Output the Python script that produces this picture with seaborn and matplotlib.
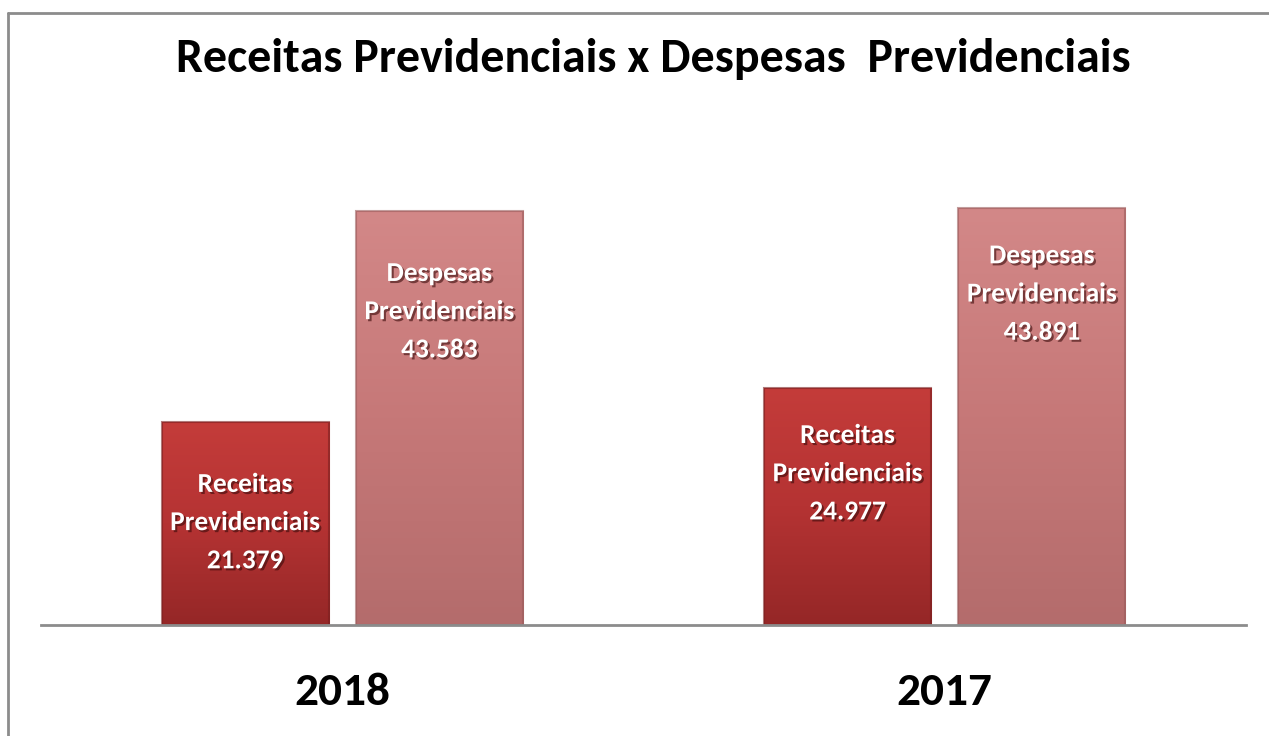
import matplotlib
matplotlib.use("Agg")
import matplotlib.pyplot as plt
import matplotlib.patheffects as pe
from matplotlib import font_manager
from matplotlib.colors import LinearSegmentedColormap
from matplotlib.lines import Line2D
import numpy as np
import pandas as pd
import seaborn as sns

# ---- data ----
years = ["2018", "2017"]
series = ["Receitas Previdenciais", "Despesas Previdenciais"]
receitas = [21379, 24977]
despesas = [43583, 43891]
title = "Receitas Previdenciais x Despesas  Previdenciais"

df = pd.DataFrame({
    "ano": years * 2,
    "tipo": [series[0]] * len(years) + [series[1]] * len(years),
    "valor": receitas + despesas,
})

sns.set_theme(style="white")
names = {f.name for f in font_manager.fontManager.ttflist}
fam = "DejaVu Sans"
for cand in ["Carlito", "Liberation Sans Narrow", "Roboto Condensed", "Open Sans Condensed", "Lato"]:
    if cand in names:
        fam = cand
        break
plt.rcParams["font.family"] = [fam, "DejaVu Sans"]

fig = plt.figure(figsize=(12.69, 7.36), dpi=100)
ax = fig.add_axes([41 / 1269, 111 / 736, 1205 / 1269, 475 / 736])

palette = {series[0]: "#B03030", series[1]: "#C97878"}
sns.barplot(data=df, x="ano", y="valor", hue="tipo", order=years,
            hue_order=series, palette=palette, width=0.645, gap=0.14,
            saturation=1, legend=False, ax=ax, linewidth=0)

ax.set_ylim(0, 50000)
ax.set_xlim(-0.5, 1.5)

# gradient overlay for a bevelled look
grad_maps = {
    0: LinearSegmentedColormap.from_list("r", ["#952727", "#B53333", "#C43C3A"]),
    1: LinearSegmentedColormap.from_list("d", ["#B46C6C", "#C67878", "#D38888"]),
}
patches = list(ax.patches)
for i, p in enumerate(patches):
    s = i // len(years)
    x0, y0 = p.get_x(), p.get_y()
    w, h = p.get_width(), p.get_height()
    g = np.linspace(0, 1, 256).reshape(-1, 1)
    im = ax.imshow(g, cmap=grad_maps[s], aspect="auto", origin="lower",
                   extent=[x0, x0 + w, y0, y0 + h], zorder=p.get_zorder() + 0.1)
    im.set_clip_path(p)
    edge = plt.Rectangle((x0, y0), w, h, fill=False,
                         edgecolor="#7a2020" if s == 0 else "#9a5c5c",
                         linewidth=1.5, alpha=0.6, zorder=p.get_zorder() + 0.2)
    ax.add_patch(edge)

# labels inside bars
offsets = [10600, 9050]  # per-year vertical offset of label centre below bar top
shadow = [pe.SimplePatchShadow(offset=(1.5, -1.5), shadow_rgbFace="#3a0a0a", alpha=0.6), pe.Normal()]
bar_texts = []
for i, p in enumerate(patches):
    s = i // len(years)
    j = i % len(years)
    val = p.get_height()
    txt = f"{int(round(val)):,}".replace(",", ".")
    name = series[s].replace(" ", "\n")
    t = ax.text(p.get_x() + p.get_width() / 2, val - offsets[j], f"{name}\n{txt}",
                ha="center", va="center", color="white", fontsize=20,
                fontweight="bold", linespacing=1.8, zorder=5, path_effects=shadow)
    bar_texts.append(t)

for side in ["left", "right", "top"]:
    ax.spines[side].set_visible(False)
ax.spines["bottom"].set_color("#8c8c8c")
ax.spines["bottom"].set_linewidth(2)
ax.set_yticks([])
ax.set_xlabel("")
ax.set_ylabel("")
ax.tick_params(axis="x", length=0, pad=34)
for lab in ax.get_xticklabels():
    lab.set_fontsize(34)
    lab.set_fontweight("bold")
    lab.set_color("black")

ttl = fig.text(653 / 1269, 1 - 59 / 736, title, ha="center", va="center",
               fontsize=35, fontweight="bold", color="black")

# fit widths to the reference proportions
fig.canvas.draw()
r = fig.canvas.get_renderer()
wt = ttl.get_window_extent(r).width
ttl.set_fontsize(35 * min(1.0, 953 / wt))
wb = bar_texts[0].get_window_extent(r).width
fsb = 20 * min(1.0, 150 / wb)
for t in bar_texts:
    t.set_fontsize(fsb)

# outer frame (only left and top edges visible)
fx, fy = 8 / 1269, 1 - 13 / 736
fig.add_artist(Line2D([fx, fx], [0, fy], transform=fig.transFigure, color="#8c8c8c", lw=2))
fig.add_artist(Line2D([fx, 1], [fy, fy], transform=fig.transFigure, color="#8c8c8c", lw=2))

fig.savefig("out.png", dpi=100)
